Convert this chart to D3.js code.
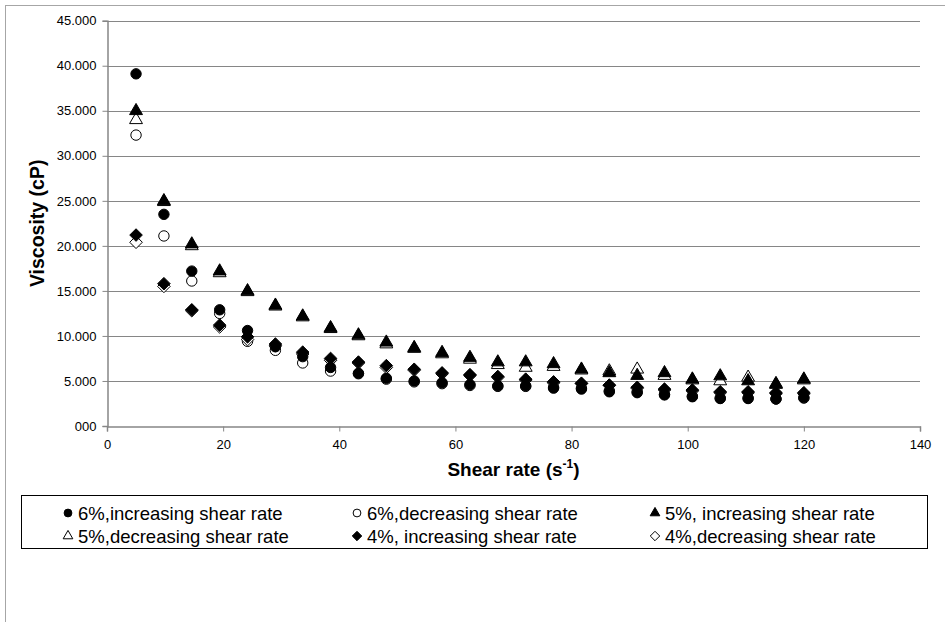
<!DOCTYPE html>
<html>
<head>
<meta charset="utf-8">
<script src="https://cdn.jsdelivr.net/npm/d3@7"></script>
<style>
  html, body { margin: 0; padding: 0; background: #fff; }
  svg { display: block; }
  text { font-family: "Liberation Sans", Arial, sans-serif; fill: #000; }
</style>
</head>
<body>
<svg id="chart" width="945" height="622"></svg>
<script>
// Shear rate (1/s) at which each reading was taken
const shearRate = [5.0, 9.8, 14.6, 19.4, 24.2, 29.0, 33.7, 38.5, 43.3, 48.1, 52.9, 57.7,
  62.5, 67.3, 72.1, 76.9, 81.7, 86.5, 91.3, 96.0, 100.8, 105.6, 110.4, 115.2, 120.0];

// Viscosity (cP) for each concentration / sweep direction
const visc6Inc = [39.1, 23.5, 17.2, 12.9, 10.6, 8.8, 7.7, 6.5, 5.85, 5.3, 5.0, 4.8,
  4.6, 4.45, 4.45, 4.2, 4.1, 3.8, 3.7, 3.45, 3.25, 3.05, 3.05, 3.0, 3.15];
const visc6Dec = [32.3, 21.1, 16.1, 12.5, 9.4, 8.4, 7.0, 6.1, 5.8, 5.2, 4.9, 4.7,
  4.5, 4.4, 4.4, 4.3, 4.2, 3.9, 3.8, 3.5, 3.3, 3.1, 3.1, 3.0, 3.1];
const visc5Inc = [35.1, 25.1, 20.3, 17.3, 15.1, 13.5, 12.3, 11.0, 10.2, 9.4, 8.8, 8.25,
  7.7, 7.2, 7.2, 7.0, 6.4, 6.0, 5.7, 6.0, 5.3, 5.65, 5.1, 4.8, 5.3];
const visc5Dec = [34.1, 25.0, 20.1, 17.1, 15.0, 13.4, 12.2, 10.9, 10.1, 9.2, 8.7, 8.1,
  7.5, 6.9, 6.6, 6.7, 6.3, 6.2, 6.4, 5.7, 5.2, 5.1, 5.5, 4.7, 5.2];
const visc4Inc = [21.2, 15.8, 12.9, 11.2, 9.9, 9.1, 8.2, 7.5, 7.1, 6.7, 6.3, 5.9,
  5.7, 5.5, 5.2, 4.9, 4.75, 4.55, 4.3, 4.1, 4.0, 3.8, 3.8, 3.7, 3.7];
const visc4Dec = [20.4, 15.5, 12.8, 11.0, 9.6, 8.9, 8.0, 7.3, 7.0, 6.5, 6.2, 5.8,
  5.6, 5.4, 5.1, 4.8, 4.7, 4.5, 4.2, 4.0, 3.9, 3.7, 3.7, 3.6, 3.6];

const seriesNames = [
  "6%,increasing shear rate", "6%,decreasing shear rate", "5%, increasing shear rate",
  "5%,decreasing shear rate", "4%, increasing shear rate", "4%,decreasing shear rate"
];

const yTickValues = [0, 5, 10, 15, 20, 25, 30, 35, 40, 45];
const yTickLabels = ["000", "5.000", "10.000", "15.000", "20.000", "25.000", "30.000", "35.000", "40.000", "45.000"];
const xTickValues = [0, 20, 40, 60, 80, 100, 120, 140];

// marker style per series: shape and whether it is filled
const series = [
  { name: seriesNames[0], values: visc6Inc, shape: "circle",   filled: true },
  { name: seriesNames[1], values: visc6Dec, shape: "circle",   filled: false },
  { name: seriesNames[2], values: visc5Inc, shape: "triangle", filled: true },
  { name: seriesNames[3], values: visc5Dec, shape: "triangle", filled: false },
  { name: seriesNames[4], values: visc4Inc, shape: "diamond",  filled: true },
  { name: seriesNames[5], values: visc4Dec, shape: "diamond",  filled: false }
];

const svg = d3.select("#chart");
const W = 945, H = 622;
const gray = "#868686";

svg.append("rect").attr("width", W).attr("height", H).attr("fill", "#fff");
// outer chart frame (runs past the right and bottom edges)
svg.append("rect")
  .attr("x", 5.5).attr("y", 5.5).attr("width", 1000).attr("height", 1000)
  .attr("fill", "none").attr("stroke", "#a6a6a6").attr("stroke-width", 1);

const plot = { left: 107, right: 920, top: 20.7, bottom: 426 };
const x = d3.scaleLinear().domain([0, 140]).range([plot.left, plot.right]);
const y = d3.scaleLinear().domain([0, 45]).range([plot.bottom, plot.top]);

// horizontal gridlines
svg.append("g")
  .selectAll("line")
  .data(yTickValues.filter(v => v > 0))
  .join("line")
  .attr("x1", plot.left).attr("x2", plot.right)
  .attr("y1", d => Math.round(y(d)) + 0.5).attr("y2", d => Math.round(y(d)) + 0.5)
  .attr("stroke", gray).attr("stroke-width", 1);

// y axis
const yAxis = d3.axisLeft(y)
  .tickValues(yTickValues)
  .tickSize(5)
  .tickPadding(6)
  .tickFormat((d, i) => yTickLabels[i]);
const gy = svg.append("g").attr("transform", `translate(${plot.left + 0.5},0)`).call(yAxis);
gy.select(".domain").attr("stroke", gray).attr("stroke-width", 1.5);
gy.selectAll(".tick line").attr("stroke", gray);
gy.selectAll(".tick text").attr("font-size", 13).attr("fill", "#000")
  .attr("font-family", "Liberation Sans, Arial, sans-serif");

// x axis
const xAxis = d3.axisBottom(x)
  .tickValues(xTickValues)
  .tickSize(5)
  .tickPadding(8)
  .tickFormat(d3.format("d"));
const gx = svg.append("g").attr("transform", `translate(0,${plot.bottom + 0.5})`).call(xAxis);
gx.select(".domain").attr("stroke", gray).attr("stroke-width", 1.5);
gx.selectAll(".tick line").attr("stroke", gray);
gx.selectAll(".tick text").attr("font-size", 13).attr("fill", "#000")
  .attr("font-family", "Liberation Sans, Arial, sans-serif");

// axis titles
const xTitle = svg.append("text")
  .attr("x", (plot.left + plot.right) / 2).attr("y", 476)
  .attr("text-anchor", "middle").attr("font-size", 19).attr("font-weight", "bold");
xTitle.append("tspan").text("Shear rate (s");
xTitle.append("tspan").attr("dy", -8).attr("font-size", 12).text("-1");
xTitle.append("tspan").attr("dy", 8).text(")");

svg.append("text")
  .attr("transform", `translate(44,${(plot.top + plot.bottom) / 2}) rotate(-90)`)
  .attr("text-anchor", "middle").attr("font-size", 19.5).attr("font-weight", "bold")
  .text("Viscosity (cP)");

// marker path generators
function markerPath(shape, scale) {
  if (shape === "circle") return d3.symbol(d3.symbolCircle, 85 * scale * scale)();
  if (shape === "triangle") return d3.symbol(d3.symbolTriangle, 72 * scale * scale)();
  // diamond: a square turned 45 degrees
  const r = 6.3 * scale;
  return `M0,${-r}L${r},0L0,${r}L${-r},0Z`;
}

// draw hollow series first, filled series on top
const drawOrder = [1, 3, 5, 0, 2, 4];
drawOrder.forEach(si => {
  const s = series[si];
  const pts = shearRate.map((sr, i) => ({ x: sr, v: s.values[i] }));
  const dy = s.shape === "triangle" ? 1 : 0;
  svg.append("g")
    .selectAll("path")
    .data(pts)
    .join("path")
    .attr("transform", d => `translate(${x(d.x)},${y(d.v) + dy})`)
    .attr("d", markerPath(s.shape, 1))
    .attr("fill", s.filled ? "#000" : "#fff")
    .attr("stroke", "#000")
    .attr("stroke-width", 1);
});

// legend
const legend = { x: 21, y: 495, w: 906, h: 53 };
svg.append("rect")
  .attr("x", legend.x + 0.5).attr("y", legend.y + 0.5)
  .attr("width", legend.w).attr("height", legend.h)
  .attr("fill", "#fff").attr("stroke", "#000").attr("stroke-width", 1);

const colTextX = [78, 367, 665];
const rowY = [513, 536];
series.forEach((s, i) => {
  const col = i % 3, row = Math.floor(i / 3);
  const g = svg.append("g");
  g.append("path")
    .attr("transform", `translate(${colTextX[col] - 10},${rowY[row]})`)
    .attr("d", markerPath(s.shape, 0.75))
    .attr("fill", s.filled ? "#000" : "#fff")
    .attr("stroke", "#000").attr("stroke-width", 1);
  g.append("text")
    .attr("x", colTextX[col]).attr("y", rowY[row])
    .attr("dominant-baseline", "central")
    .attr("font-size", 18.5)
    .text(s.name);
});
</script>
</body>
</html>
